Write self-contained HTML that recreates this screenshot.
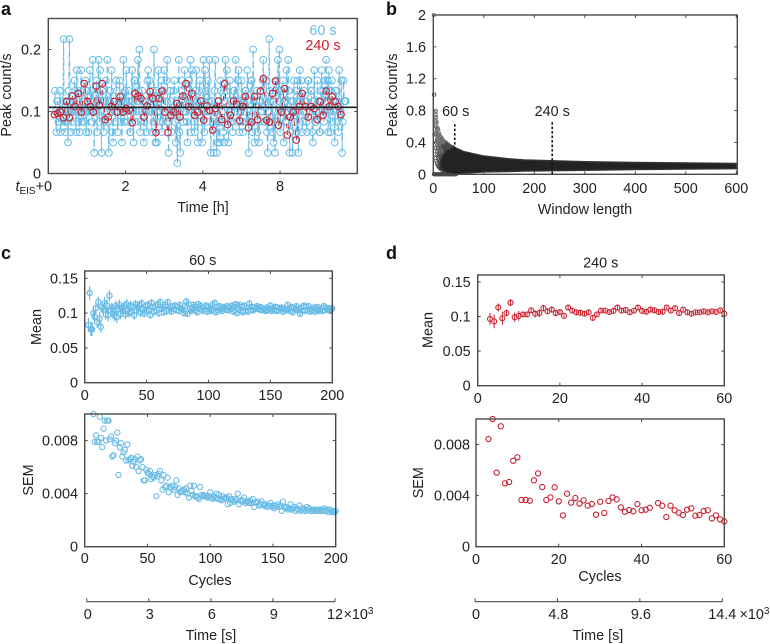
<!DOCTYPE html>
<html lang="en">
<head>
<meta charset="utf-8">
<title>Peak count statistics</title>
<style>
html,body{margin:0;padding:0;background:#fff;}
svg{display:block;font-family:"Liberation Sans",sans-serif;fill:#222;}
text{font-size:14.4px;}
.letter{font-size:18px;font-weight:bold;fill:#111;}
</style>
</head>
<body>
<svg id="fig" xmlns="http://www.w3.org/2000/svg" width="770" height="644" viewBox="0 0 770 644">
<defs>
<clipPath id="clip-c-mean"><rect x="84" y="268" width="252" height="116"/></clipPath>
<clipPath id="clip-c-sem"><rect x="84" y="409" width="256" height="138"/></clipPath>
<clipPath id="clip-d-mean"><rect x="476" y="272" width="252" height="114"/></clipPath>
<clipPath id="clip-d-sem"><rect x="475" y="414" width="254" height="133"/></clipPath>
</defs>
<text class="letter" x="1" y="15">a</text>
<text class="letter" x="386" y="15">b</text>
<text class="letter" x="1" y="259">c</text>
<text class="letter" x="386" y="259">d</text>
</svg>
<script>
// ---------- Panel a data ----------
const aTimeStart60 = 0.17, aTimeEnd60 = 7.7, aTimeStart240 = 0.16, aTimeEnd240 = 7.58;
const aCounts60 = [
8,6,4,7,7,5,5,8,4,6,6,7,13,5,4,6,5,7,3,8,
13,7,4,6,7,5,6,9,8,4,10,7,5,6,4,8,10,5,7,6,
5,7,9,4,6,8,4,6,10,7,8,5,11,6,2,7,6,9,4,7,
11,5,10,6,2,8,7,4,5,7,9,6,11,5,2,7,8,6,10,4,
3,7,6,5,9,8,4,6,7,9,5,7,3,6,11,5,8,7,10,6,
5,8,7,4,4,6,10,7,3,9,9,5,6,7,11,8,12,4,5,6,
8,7,3,5,7,6,4,9,10,6,9,7,6,4,8,5,12,7,3,8,
3,6,10,7,6,5,9,4,5,8,10,6,7,9,11,5,2,6,8,7,
4,6,6,8,9,5,3,7,1,6,11,4,2,7,8,9,5,6,10,7,
6,5,3,8,9,7,11,4,10,6,7,5,4,8,10,7,3,6,8,9,
5,7,3,6,11,4,10,8,6,5,9,7,11,6,2,7,7,5,2,8,
11,6,2,7,3,5,3,9,8,6,5,4,3,7,11,8,10,5,3,6,
9,7,6,5,4,8,8,6,11,7,5,9,10,4,7,6,9,5,4,7,
6,8,8,5,10,7,2,6,5,9,9,4,12,7,3,6,7,8,4,5,
3,7,8,6,6,9,11,5,5,7,9,4,2,6,13,8,7,5,4,7,
3,6,2,8,9,5,11,7,12,4,8,6,6,9,3,7,5,5,10,6,
11,8,2,4,7,6,2,7,9,5,6,8,4,9,2,6,10,7,9,4,
5,6,8,7,7,5,4,9,9,6,6,8,8,4,3,7,10,5,5,6,
9,7,7,4,4,8,10,6,8,5,6,9,11,7,9,4,10,6,4,8,
9,5,7,6,3,8,8,7,5,4,10,6,6,9,2,5,9,7,7,7];
const aCountWindow60 = 60;
const aValues240 = [.095,.097,.099,.090,.116,.090,.125,.108,.129,.099,.145,.116,.108,.099,.141,.110,.145,.087,.091,.108,.116,.099,.124,.099,.105,.102,.082,.129,.125,.121,.091,.109,.132,.121,.066,.121,.133,.099,.066,.094,.099,.113,.091,.125,.145,.108,.129,.094,.099,.117,.086,.109,.102,.070,.105,.117,.087,.145,.079,.094,.117,.112,.085,.108,.124,.074,.083,.124,.087,.133,.153,.086,.083,.129,.149,.078,.099,.137,.062,.091,.099,.054,.108,.129,.108,.091,.108,.105,.087,.116,.094,.133,.108,.124,.116,.108,.095];
const aMeanLevel = [0.1068];
const aYTicks = [0, 0.1, 0.2];
const aYTickLabels = ['0', '0.1', '0.2'];
const aXTicks = [2, 4, 6];
const aXTickLabels = ['2', '4', '8'];

// ---------- Panel b data ----------
const bFanWindows = [1,2,3,4,5,6,7,8,9,10,11,12,13,14,15,16,17,18,19,20,21,22,23,24,25,26,27,28,29,30,31,32,33,34,35,36,37,38,39,40,41,42,43,44,45];
const bFanMaxCounts = [2,2,2,3,4,4,4,4,5,5,5,6,6,6,7,7,7,8,8,8,8,9,9,9,10,10,10,10,11,11,11,11,11,12,12,12,12,13,13,13,13,13,13,13,14];
const bHazeWindows = [3,3,4,4,5,5,5,6,6,6,7,7,7,8,8,8,9,9,9,10,10,10,11,11,12,12,13,13,14,14,15,15,16,17,18,19,20];
const bHazeValues = [.72,.60,.78,.66,.75,.70,.62,.72,.60,.54,.65,.55,.48,.58,.52,.44,.58,.50,.42,.56,.47,.38,.52,.40,.50,.36,.48,.32,.46,.30,.46,.28,.44,.42,.41,.40,.42];
const bBandWindows = [14,25,40,52,60,100,150,180,240,300,400,500,600];
const bBandUpper = [.18,.29,.34,.31,.285,.23,.195,.18,.17,.158,.148,.142,.135];
const bBandLower = [.08,.03,0,.005,.012,.03,.035,.04,.045,.05,.06,.065,.07];
const bYTicks = [0, .4, .8, 1.2, 1.6, 2];
const bYTickLabels = ['0', '0.4', '0.8', '1.2', '1.6', '2'];
const bXTicks = [0, 100, 200, 300, 400, 500, 600];
const bMarkerWindows = [42.5, 235.5];
const bMarkerTops = [0.63, 0.655];
const bMarkerBottoms = [0.32, 0];
const bMarkerLabels = ['60 s', '240 s'];

// ---------- Panel c data ----------
const cMean = [83,129,77,77,100,95,107,87,116,92,
80,108,105,114,98,111,97,125,104,108,
100,96,110,94,106,112,99,108,103,110,
98,113,105,100,111,102,109,97,113,104,
108,111,101,114,106,99,110,103,112,105,
97,115,108,102,110,104,113,100,116,106,
109,101,112,103,116,105,108,102,110,106,
111,104,109,103,112,107,105,100,110,117,
99,113,106,103,108,112,104,109,101,113,
106,110,103,108,105,111,102,109,106,103,
112,105,115,101,108,104,110,106,103,109,
107,105,110,104,108,106,111,102,109,113,
100,107,112,103,109,101,111,104,108,102,
114,105,109,104,108,106,110,107,105,109,
104,107,105,103,108,104,106,111,103,107,
105,109,103,108,104,106,108,102,107,105,
104,112,106,103,109,101,107,105,110,104,
106,99,108,104,111,103,109,105,110,102,
106,104,108,102,106,109,103,105,107,103,
110,104,108,106,104,107,105,107];
const cSem = [140,130,120,110,100,79,84,79,79,98,82,75,89,95,80,95,95,81,83,68,69,78,80,86,54,75,78,68,71,73,65,77,65,66,67,61,64,66,60,68,57,65,66,60,50,50,58,56,55,57,51,53,52,54,38,53,55,57,50,43,54,45,46,52,41,45,44,46,43,45,50,39,44,41,42,42,43,41,44,40,37,46,42,39,46,38,38,37,36,45,39,38,39,38,38,37,38,41,37,36,38,37,40,36,39,36,35,38,36,37,37,32,38,33,36,35,34,36,35,40,32,35,34,35,37,33,34,34,33,35,33,36,30,33,33,34,31,32,34,32,31,32,30,31,31,33,30,31,29,31,30,32,30,31,27,34,30,29,30,28,29,32,28,29,30,27,29,28,31,27,28,29,28,27,30,28,29,27,27,28,27,28,27,27,28,27,28,27,29,27,28,26,28,27,26,27,26,27];
const cFirstCycle = [3];
const cXTicks = [0, 50, 100, 150, 200];
const cMeanYTicks = [0, .05, .1, .15];
const cMeanYLabels = ['0', '0.05', '0.1', '0.15'];
const semYTicks = [0, .004, .008];
const semYLabels = ['0', '0.004', '0.008'];
const cTimeTicks = [0, 3, 6, 9, 12];
const cTimeLabels = ['0', '3', '6', '9', '12'];

// ---------- Panel d data ----------
const dMean = [.0965,.093,.113,.0975,.105,.12,.099,.101,.103,.103,.109,.104,.105,.112,.1075,.11,.105,.1065,.101,.113,.1085,.106,.1055,.104,.106,.098,.103,.1085,.1085,.1065,.108,.113,.1085,.1095,.106,.1085,.113,.108,.107,.11,.109,.1065,.107,.113,.1085,.112,.105,.11,.106,.104,.106,.106,.1075,.106,.1075,.1065,.109,.104];
const dSem = [.00843,.01,.0058,.00943,.00496,.00506,.00673,.007,.00366,.00366,.0036,.0052,.00574,.00467,.00366,.00386,.00465,.00355,.00245,.00415,.00345,.00381,.00337,.00363,.00321,.00334,.00251,.00352,.00264,.00358,.00386,.00371,.00308,.00274,.00287,.00277,.00334,.00285,.0029,.00305,null,.00342,.00321,.00232,.00321,.00285,.00266,.00248,.0029,.00300,.00243,.00248,.00279,.00285,.00222,.00245,.00214,.00198];
const dFirstCycle = [3];
const dXTicks = [0, 20, 40, 60];
const dTimeTicks = [0, 4.8, 9.6, 14.4];
const dTimeLabels = ['0', '4.8', '9.6', '14.4'];

// ---------- Helpers ----------
const NS = 'http://www.w3.org/2000/svg';
const fig = document.getElementById('fig');
const BLUE = '#69bce6', RED = '#c9202f', DARK = '#4a4a4a';

function node(tag, attrs, parent) {
  const e = document.createElementNS(NS, tag);
  for (const k in attrs) e.setAttribute(k, attrs[k]);
  (parent || fig).appendChild(e);
  return e;
}
function linear(d0, d1, r0, r1) {
  return v => r0 + (v - d0) / (d1 - d0) * (r1 - r0);
}
function label(str, x, y, anchor, name, rotate, fill) {
  const t = node('text', {x: x, y: y, 'text-anchor': anchor});
  if (rotate) t.setAttribute('transform', 'rotate(-90 ' + x + ' ' + y + ')');
  if (fill) t.setAttribute('fill', fill);
  t.textContent = str;
  
  
  return t;
}
function seg(x1, y1, x2, y2, stroke, w, name, dash) {
  const l = node('line', {x1: x1, y1: y1, x2: x2, y2: y2, stroke: stroke, 'stroke-width': w});
  if (dash) l.setAttribute('stroke-dasharray', dash);
  
  
  return l;
}
function dot(parent, cx, cy, r, stroke, w, name) {
  const c = node('circle', {cx: cx, cy: cy, r: r, fill: 'none', stroke: stroke, 'stroke-width': w}, parent);
  
  
  return c;
}
function frame(p, name, xTicks, xLabels, yTicks, yLabels, xBase, yEnd) {
  const r = node('rect', {x: p.x0, y: p.y0, width: p.x1 - p.x0, height: p.y1 - p.y0, fill: 'none', stroke: DARK, 'stroke-width': 1.4});
  
  
  xTicks.forEach((v, i) => {
    const x = p.sx(v);
    seg(x, p.y1, x, p.y1 - 3, DARK, 1, name + '-x-tick');
    seg(x, p.y0, x, p.y0 + 3, DARK, 1, name + '-x-tick-top');
    if (xLabels[i] !== '') label(xLabels[i], x, xBase, 'middle', name + '-x-tick-label');
  });
  yTicks.forEach((v, i) => {
    const y = p.sy(v);
    seg(p.x0, y, p.x0 + 3, y, DARK, 1, name + '-y-tick');
    seg(p.x1, y, p.x1 - 3, y, DARK, 1, name + '-y-tick-right');
    label(yLabels[i], yEnd, y + 5, 'end', name + '-y-tick-label');
  });
}

// ---------- Panel a ----------
(function () {
  const p = {x0: 48.3, x1: 357.3, y0: 18.5, y1: 173.5};
  p.sx = linear(0, 8, p.x0, p.x1);
  p.sy = linear(0, 0.25, p.y1, p.y0);
  const g = node('g', {});
  
  
  const tx60 = i => aTimeStart60 + i * (aTimeEnd60 - aTimeStart60) / (aCounts60.length - 1);
  const tx240 = i => aTimeStart240 + i * (aTimeEnd240 - aTimeStart240) / (aValues240.length - 1);
  const pts60 = aCounts60.map((k, i) => p.sx(tx60(i)).toFixed(1) + ',' + p.sy(k / aCountWindow60).toFixed(1)).join(' ');
  const line60 = node('polyline', {points: pts60, fill: 'none', stroke: BLUE, 'stroke-width': 1, 'stroke-dasharray': '7 3'}, g);
  
  
  aCounts60.forEach((k, i) => dot(g, p.sx(tx60(i)), p.sy(k / aCountWindow60), 3.4, BLUE, 1, 'point-60s'));
  const pts240 = aValues240.map((v, i) => p.sx(tx240(i)).toFixed(1) + ',' + p.sy(v).toFixed(1)).join(' ');
  const line240 = node('polyline', {points: pts240, fill: 'none', stroke: RED, 'stroke-width': 0.9, 'stroke-dasharray': '5 4'}, g);
  
  
  aValues240.forEach((v, i) => dot(g, p.sx(tx240(i)), p.sy(v), 3.3, RED, 1.1, 'point-240s'));
  seg(p.x0, p.sy(aMeanLevel[0]), p.x1, p.sy(aMeanLevel[0]), '#222', 1.6, 'mean-line');
  frame(p, 'panel-a', aXTicks, aXTickLabels, aYTicks, aYTickLabels, 191, 41);
  label('60 s', 323, 35, 'middle', 'legend-entry-60s', false, BLUE);
  label('240 s', 323, 50, 'middle', 'legend-entry-240s', false, RED);
  label('Peak count/s', 11, 95, 'middle', 'panel-a-y-axis-title', true);
  label('Time [h]', 203, 212, 'middle', 'panel-a-x-axis-title');
  const t0 = node('text', {x: 52, y: 191, 'text-anchor': 'end'});
  
  
  const ts1 = node('tspan', {'font-style': 'italic'}, t0); ts1.textContent = 't';
  const ts2 = node('tspan', {'font-size': '10', dy: '3'}, t0); ts2.textContent = 'EIS';
  const ts3 = node('tspan', {dy: '-3'}, t0); ts3.textContent = '+0';
})();

// ---------- Panel b ----------
(function () {
  const p = {x0: 433.3, x1: 737.3, y0: 15, y1: 174.3};
  p.sx = linear(0, 600, p.x0, p.x1 - 1);
  p.sy = linear(0, 2, p.y1, p.y0);
  const g = node('g', {});
  
  
  bFanWindows.forEach((w, i) => {
    for (let k = 0; k <= bFanMaxCounts[i]; k++) {
      dot(g, p.sx(w), p.sy(k / w), 1.7, '#4a4a4a', 0.6, 'window-point');
    }
  });
  bHazeWindows.forEach((w, i) => dot(g, p.sx(w), p.sy(bHazeValues[i]), 1.7, '#777', 0.6, 'window-point'));
  const upper = bBandWindows.map((w, i) => p.sx(w).toFixed(1) + ',' + p.sy(bBandUpper[i]).toFixed(1));
  const lower = bBandWindows.map((w, i) => p.sx(w).toFixed(1) + ',' + p.sy(bBandLower[i]).toFixed(1)).reverse();
  const band = node('polygon', {points: upper.concat(lower).join(' '), fill: '#232323', stroke: '#333', 'stroke-width': 1.4, 'stroke-linejoin': 'round'}, g);
  
  
  frame(p, 'panel-b', bXTicks, bXTicks.map(String), bYTicks, bYTickLabels, 193, 426);
  bMarkerWindows.forEach((w, i) => {
    seg(p.sx(w), p.sy(bMarkerTops[i]), p.sx(w), p.sy(bMarkerBottoms[i]), '#111', 1.6, 'window-marker-' + bMarkerLabels[i].replace(' ', ''), '2.5 2');
    label(bMarkerLabels[i], p.sx(w) + (i === 0 ? 1 : 0), 116, 'middle', 'window-marker-label');
  });
  label('Peak count/s', 397, 95, 'middle', 'panel-b-y-axis-title', true);
  label('Window length', 585, 214, 'middle', 'panel-b-x-axis-title');
})();

// ---------- Time axes ----------
function timeAxis(x0, x1, yLine, ticks, labels, max, name) {
  const sx = linear(0, max, x0, x1);
  seg(x0, yLine, x1, yLine, DARK, 1.2, name + '-line');
  ticks.forEach((v, i) => {
    seg(sx(v), yLine, sx(v), yLine - 3.5, DARK, 1, name + '-tick');
    label(labels[i], sx(v) + (i === ticks.length - 1 ? 0 : 1), 619, 'middle', name + '-tick-label');
  });
  return sx;
}
function exponent(x, y, name) {
  const t = node('text', {x: x, y: y});
  
  
  const a = node('tspan', {}, t); a.textContent = '×10';
  const b = node('tspan', {'font-size': '10', dy: '-5'}, t); b.textContent = '3';
}

// ---------- Panel c ----------
(function () {
  const p = {x0: 84.7, x1: 332.3, y0: 271, y1: 382.7};
  p.sx = linear(0, 200, p.x0, p.x1);
  p.sy = linear(0, 0.1605, p.y1, p.y0);
  const g = node('g', {'clip-path': 'url(#clip-c-mean)'});
  
  
  cMean.forEach((m, i) => {
    const x = p.sx(cFirstCycle[0] + i), v = m / 1000, e = Math.min(cSem[i], 100) / 10000;
    const l = node('line', {x1: x, x2: x, y1: p.sy(v - e), y2: p.sy(v + e), stroke: BLUE, 'stroke-width': 1.2}, g);
    
    
    dot(g, x, p.sy(v), 2.6, BLUE, 1.25, 'mean-point-60s');
  });
  frame(p, 'panel-c-mean', cXTicks, cXTicks.map(String), cMeanYTicks, cMeanYLabels, 400, 78);
  label('60 s', 202.7, 265, 'middle', 'panel-c-title');
  label('Mean', 41, 327, 'middle', 'panel-c-mean-y-axis-title', true);

  const q = {x0: 84.7, x1: 335.7, y0: 414, y1: 546.7};
  q.sx = linear(0, 200, q.x0, q.x1);
  q.sy = linear(0, 0.01, q.y1, q.y0);
  const h = node('g', {'clip-path': 'url(#clip-c-sem)'});
  
  
  cSem.forEach((s, i) => dot(h, q.sx(cFirstCycle[0] + i), q.sy(s / 10000), 2.6, BLUE, 1.1, 'sem-point-60s'));
  frame(q, 'panel-c-sem', cXTicks, cXTicks.map(String), semYTicks, semYLabels, 563, 78);
  label('SEM', 33, 480, 'middle', 'panel-c-sem-y-axis-title', true);
  label('Cycles', 210, 585, 'middle', 'panel-c-x-axis-title');
  timeAxis(86.7, 335, 601.7, cTimeTicks, cTimeLabels, 12, 'panel-c-time-axis');
  exponent(343.5, 619, 'panel-c-time-exponent');
  label('Time [s]', 211, 640, 'middle', 'panel-c-time-axis-title');
})();

// ---------- Panel d ----------
(function () {
  const p = {x0: 477.7, x1: 724.3, y0: 275, y1: 385.7};
  p.sx = linear(0, 60, p.x0, p.x1);
  p.sy = linear(0, 0.16, p.y1, p.y0);
  const g = node('g', {'clip-path': 'url(#clip-d-mean)'});
  
  
  dMean.forEach((v, i) => {
    const x = p.sx(dFirstCycle[0] + i), e = dSem[i] === null ? 0.003 : dSem[i];
    const l = node('line', {x1: x, x2: x, y1: p.sy(v - e), y2: p.sy(v + e), stroke: RED, 'stroke-width': 1}, g);
    
    
    dot(g, x, p.sy(v), 2.5, RED, 1.1, 'mean-point-240s');
  });
  frame(p, 'panel-d-mean', dXTicks, dXTicks.map(String), cMeanYTicks, cMeanYLabels, 403, 470.7);
  label('240 s', 600.7, 267.7, 'middle', 'panel-d-title');
  label('Mean', 432.7, 330, 'middle', 'panel-d-mean-y-axis-title', true);

  const q = {x0: 476, x1: 724.3, y0: 419, y1: 546.7};
  q.sx = linear(0, 60, q.x0, q.x1);
  q.sy = linear(0, 0.01, q.y1, q.y0);
  const h = node('g', {'clip-path': 'url(#clip-d-sem)'});
  
  
  dSem.forEach((s, i) => {
    if (s !== null) dot(h, q.sx(dFirstCycle[0] + i), q.sy(s), 2.6, RED, 1.1, 'sem-point-240s');
  });
  frame(q, 'panel-d-sem', dXTicks, dXTicks.map(String), semYTicks, semYLabels, 564, 470);
  label('SEM', 423, 482.7, 'middle', 'panel-d-sem-y-axis-title', true);
  label('Cycles', 600, 581, 'middle', 'panel-d-x-axis-title');
  timeAxis(475, 722.3, 601.7, dTimeTicks, dTimeLabels, 14.4, 'panel-d-time-axis');
  exponent(739.5, 619, 'panel-d-time-exponent');
  label('Time [s]', 598, 640, 'middle', 'panel-d-time-axis-title');
})();
</script>
</body>
</html>
